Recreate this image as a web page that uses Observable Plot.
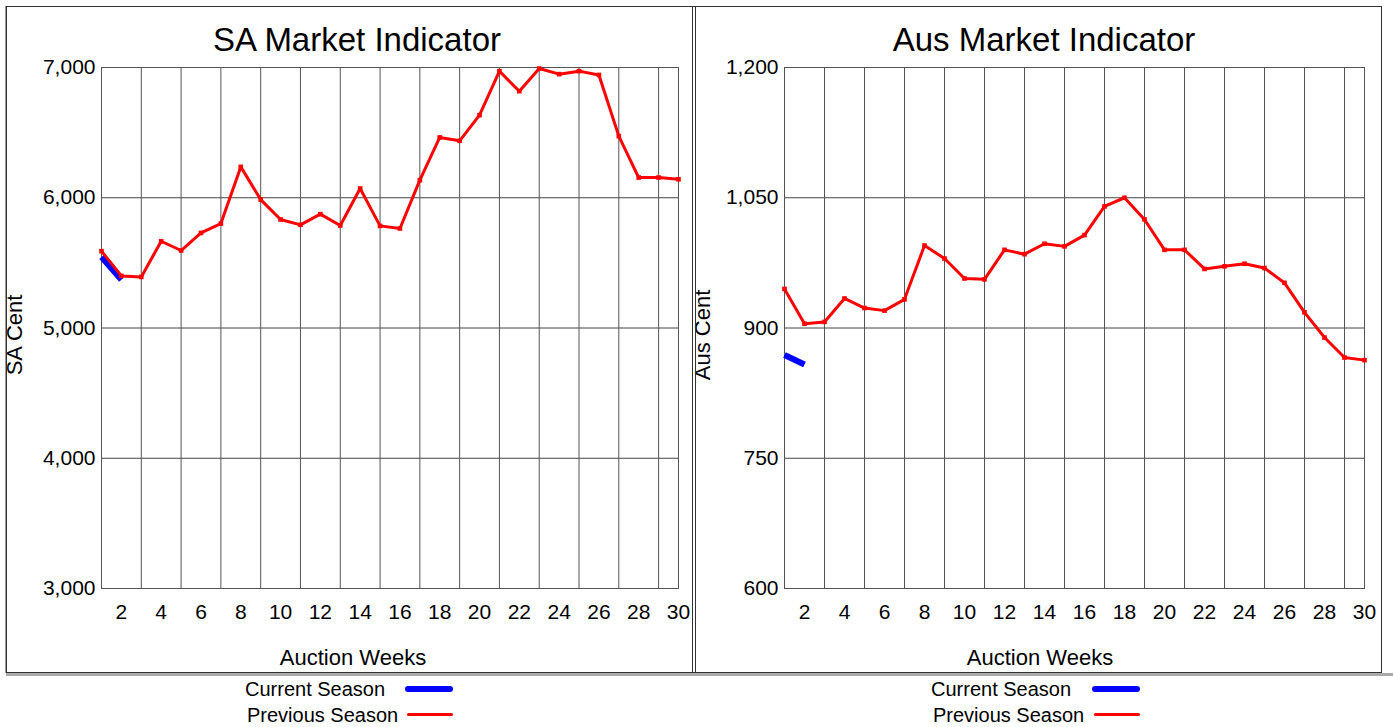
<!DOCTYPE html>
<html>
<head>
<meta charset="utf-8">
<script src="https://cdn.jsdelivr.net/npm/d3@7"></script>
<script src="https://cdn.jsdelivr.net/npm/@observablehq/plot@0.6"></script>
<style>
  html, body { margin: 0; padding: 0; background: #fff; }
  body { font-family: "Liberation Sans", Arial, sans-serif; color: #000; }
  #wrap { position: relative; width: 1393px; height: 727px; overflow: hidden; }
  .abs { position: absolute; white-space: nowrap; }
  .title { font-size: 33px; line-height: 33px; transform: translateX(-50%); }
  .xlab { font-size: 22px; line-height: 22px; transform: translateX(-50%); }
  .ylab { font-size: 22px; line-height: 22px; transform: translate(-50%, -50%) rotate(-90deg); }
  .leg { font-size: 20px; line-height: 20px; }
  .sw { position: absolute; border-radius: 4px; }
  .line { position: absolute; pointer-events: none; }
</style>
</head>
<body>
<div id="wrap"></div>
<script>
// ---- data ----
const weeks = [1,2,3,4,5,6,7,8,9,10,11,12,13,14,15,16,17,18,19,20,21,22,23,24,25,26,27,28,29,30];
const xTickLabels = [2,4,6,8,10,12,14,16,18,20,22,24,26,28,30];
const xGridWeeks = [3,5,7,9,11,13,15,17,19,21,23,25,27,29];

const saPrevious = [5590,5400,5392,5666,5595,5730,5802,6237,5986,5833,5792,5874,5787,6071,5784,5764,6135,6463,6437,6634,6972,6818,6992,6949,6972,6943,6473,6155,6155,6142];
const saCurrent = [5545,5370];
const saTicks = [3000,4000,5000,6000,7000];
const saGrid = [4000,5000,6000];

const ausPrevious = [945,905,907,934,923,920,933,995,980,957,956,990,985,997,994,1007,1040,1050,1025,990,990,968,971,974,969,952,918,889,866,863];
const ausCurrent = [869,858];
const ausTicks = [600,750,900,1050,1200];
const ausGrid = [750,900,1050];

const seriesNames = ["Current Season", "Previous Season"];
const seriesColors = ["#0000ff", "#ff0000"];

// ---- drawing ----
function toRows(values) {
  return values.map((v, i) => ({week: weeks[i], value: v}));
}

function panel({prev, cur, yDomain, yTicks, yGrid, marginLeft, marginRight, width}) {
  const prevRows = toRows(prev);
  const curRows = toRows(cur);
  return Plot.plot({
    width,
    height: 673,
    marginLeft,
    marginRight,
    marginTop: 67,
    marginBottom: 85,
    style: {fontFamily: '"Liberation Sans", Arial, sans-serif', fontSize: "21px", color: "#000", background: "transparent", overflow: "visible"},
    x: {domain: [1, 30], ticks: xTickLabels, tickSize: 0, tickPadding: 16, label: null},
    y: {domain: yDomain, ticks: yTicks, tickFormat: d3.format(","), tickSize: 0, tickPadding: 6, label: null},
    marks: [
      Plot.ruleY(yGrid, {stroke: "#444", strokeWidth: 1}),
      Plot.ruleX(xGridWeeks, {stroke: "#555", strokeWidth: 1}),
      Plot.frame({stroke: "#555"}),
      Plot.line(curRows, {x: "week", y: "value", stroke: seriesColors[0], strokeWidth: 6, strokeLinecap: "butt"}),
      Plot.line(prevRows, {x: "week", y: "value", stroke: seriesColors[1], strokeWidth: 3}),
      Plot.dot(prevRows, {x: "week", y: "value", symbol: "square", r: 2.6, fill: seriesColors[1], stroke: "none"})
    ]
  });
}

const wrap = document.getElementById("wrap");

function place(el, left, top) {
  el.style.position = "absolute";
  el.style.left = left + "px";
  el.style.top = top + "px";
  wrap.appendChild(el);
}

const left = panel({prev: saPrevious, cur: saCurrent, yDomain: [3000, 7000], yTicks: saTicks, yGrid: saGrid, marginLeft: 101, marginRight: 15, width: 693});
place(left, 0, 0);
const right = panel({prev: ausPrevious, cur: ausCurrent, yDomain: [600, 1200], yTicks: ausTicks, yGrid: ausGrid, marginLeft: 91, marginRight: 22, width: 693});
place(right, 693, 0);

function text(cls, str, l, t) {
  const d = document.createElement("div");
  d.className = "abs " + cls;
  d.textContent = str;
  d.style.left = l + "px";
  d.style.top = t + "px";
  wrap.appendChild(d);
  return d;
}

text("title", "SA Market Indicator", 357, 23);
text("title", "Aus Market Indicator", 1044, 23);
text("xlab", "Auction Weeks", 353, 647);
text("xlab", "Auction Weeks", 1040, 647);
text("ylab", "SA Cent", 15, 335);
text("ylab", "Aus Cent", 703, 335);

// legends
function legend(x0, swx) {
  text("leg", seriesNames[0], x0, 679);
  text("leg", seriesNames[1], x0 + 2, 705);
  const s1 = document.createElement("div");
  s1.className = "sw";
  Object.assign(s1.style, {left: swx + "px", top: "686px", width: "48px", height: "6px", background: seriesColors[0], borderRadius: "3px"});
  wrap.appendChild(s1);
  const s2 = document.createElement("div");
  s2.className = "sw";
  Object.assign(s2.style, {left: (swx + 2) + "px", top: "713px", width: "46px", height: "3px", background: seriesColors[1], borderRadius: "2px"});
  wrap.appendChild(s2);
}
legend(245, 405);
legend(931, 1092);

// panel borders
function box(l, t, w, h, bg) {
  const d = document.createElement("div");
  d.className = "line";
  Object.assign(d.style, {left: l + "px", top: t + "px", width: w + "px", height: h + "px", background: bg});
  wrap.appendChild(d);
}
box(6, 6, 1376, 1, "#333");          // top
box(6, 672, 1376, 1, "#333");        // bottom
box(6, 673, 1387, 3, "#aaa");        // bottom shadow
box(5, 6, 1, 667, "#999");           // left shadow
box(6, 6, 1, 667, "#333");           // left
box(1381, 6, 1, 667, "#333");        // right
box(692, 6, 1, 667, "#333");         // middle
box(695, 6, 1, 667, "#333");         // middle
</script>
</body>
</html>
